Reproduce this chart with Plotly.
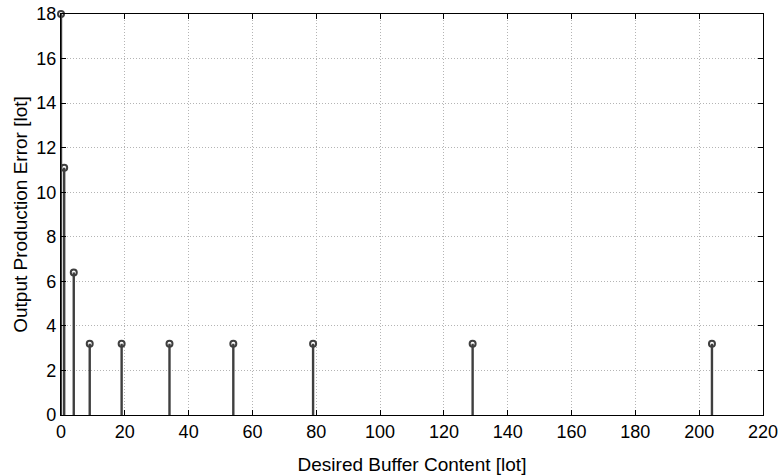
import plotly.graph_objects as go

# Desired buffer content vs. resulting output production error
buffer_content = [0, 1, 4, 9, 19, 34, 54, 79, 129, 204]
production_error = [18, 11.1, 6.4, 3.2, 3.2, 3.2, 3.2, 3.2, 3.2, 3.2]

x_ticks = list(range(0, 221, 20))
y_ticks = list(range(0, 19, 2))

stem_color = "#3f3f3f"
font_family = "Liberation Sans, Arial, sans-serif"

# Build stems as separated vertical segments
stem_x, stem_y = [], []
for x, y in zip(buffer_content, production_error):
    stem_x += [x, x, None]
    stem_y += [0, y, None]

fig = go.Figure()
fig.add_trace(go.Scatter(
    x=stem_x, y=stem_y, mode="lines",
    line=dict(color=stem_color, width=2.4),
    hoverinfo="skip", showlegend=False,
))
fig.add_trace(go.Scatter(
    x=buffer_content, y=production_error, mode="markers",
    marker=dict(symbol="circle-open", size=6, color=stem_color,
                line=dict(width=2, color=stem_color)),
    showlegend=False, cliponaxis=False,
))

axis_common = dict(
    showline=True, linecolor="black", linewidth=1.2, mirror="allticks",
    ticks="inside", ticklen=5, tickcolor="black",
    showgrid=True, gridcolor="#b4b4b4", griddash="1px,2px", gridwidth=1,
    zeroline=False, automargin=False,
    tickfont=dict(family=font_family, size=18, color="black"),
    title_font=dict(family=font_family, size=19, color="black"),
)

fig.update_xaxes(range=[0, 220], tickvals=x_ticks,
                 title_text="Desired Buffer Content [lot]", title_standoff=16,
                 **axis_common)
fig.update_yaxes(range=[0, 18], tickvals=y_ticks,
                 title_text="Output Production Error [lot]", title_standoff=3,
                 **axis_common)

fig.update_layout(
    width=781, height=475,
    margin=dict(l=61, r=18, t=14, b=60),
    paper_bgcolor="white", plot_bgcolor="white",
)

fig.write_html("out.html")
